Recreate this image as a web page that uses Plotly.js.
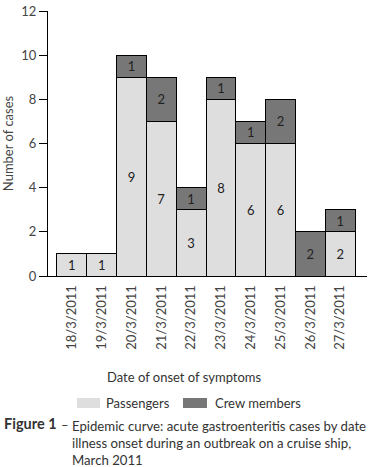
<!DOCTYPE html>
<html>
<head>
<meta charset="utf-8">
<script src="https://cdn.plot.ly/plotly-3.0.1.min.js"></script>
<style>html,body{margin:0;padding:0;background:#fff;}#chart{width:372px;height:467px;}</style>
</head>
<body>
<div id="chart"></div>
<script>
const dates = ["18/3/2011","19/3/2011","20/3/2011","21/3/2011","22/3/2011","23/3/2011","24/3/2011","25/3/2011","26/3/2011","27/3/2011"];
const passengers = [1,1,9,7,3,8,6,6,0,2];
const crew = [0,0,1,2,1,1,1,2,2,1];

const FONT = "Lato, 'DejaVu Sans', sans-serif";
const W = 372, H = 467;
const M = {l:48, r:5, t:11, b:191};
const PW = W - M.l - M.r, PH = H - M.t - M.b;
const px = x => (x - M.l) / PW;
const py = y => (H - M.b - y) / PH;

const lbl = arr => arr.map(v => v ? String(v) : "");

const common = {
  type: 'bar',
  x: dates,
  textposition: 'inside',
  insidetextanchor: 'middle',
  textangle: 0,
  constraintext: 'none',
  textfont: {family: FONT, size: 13, color: '#222'},
  hoverinfo: 'skip',
  showlegend: false
};

const traces = [
  Object.assign({}, common, {
    name: 'Passengers', y: passengers, text: lbl(passengers),
    marker: {color: '#dedede', line: {color: '#000', width: 1}}
  }),
  Object.assign({}, common, {
    name: 'Crew members', y: crew, text: lbl(crew),
    marker: {color: '#777777', line: {color: '#000', width: 1}}
  })
];

const layout = {
  width: W, height: H,
  margin: M,
  paper_bgcolor: '#fff', plot_bgcolor: '#fff',
  barmode: 'stack', bargap: 0,
  font: {family: FONT, size: 12, color: '#333'},
  xaxis: {
    type: 'category',
    range: [-0.8, 9.9],
    tickangle: -90,
    ticks: '',
    showline: true, linecolor: '#000', linewidth: 1,
    showgrid: false, zeroline: false,
    tickfont: {family: FONT, size: 13, color: '#444'},
    ticklabelstandoff: 3,
    automargin: false
  },
  yaxis: {
    range: [0, 12],
    tickvals: [0,2,4,6,8,10,12],
    ticks: 'outside', ticklen: 8, tickcolor: '#000', tickwidth: 1,
    showline: true, linecolor: '#000', linewidth: 1,
    showgrid: false, zeroline: false,
    tickfont: {family: FONT, size: 13, color: '#444'},
    automargin: false,
    title: {text: 'Number of cases', font: {family: FONT, size: 13, color: '#444'}, standoff: 10}
  },
  shapes: [
    {type:'rect', xref:'paper', yref:'paper', x0:px(77), x1:px(100), y0:py(408), y1:py(398), fillcolor:'#dedede', line:{width:0}},
    {type:'rect', xref:'paper', yref:'paper', x0:px(183), x1:px(207), y0:py(408), y1:py(398), fillcolor:'#777777', line:{width:0}}
  ],
  annotations: [
    {xref:'paper', yref:'paper', x:px(184), y:py(377), xanchor:'center', yanchor:'middle', showarrow:false, text:'Date of onset of symptoms', font:{family:FONT, size:13, color:'#333'}},
    {xref:'paper', yref:'paper', x:px(104), y:py(403), xanchor:'left', yanchor:'middle', showarrow:false, text:'Passengers', font:{family:FONT, size:13, color:'#333'}},
    {xref:'paper', yref:'paper', x:px(213), y:py(403), xanchor:'left', yanchor:'middle', showarrow:false, text:'Crew members', font:{family:FONT, size:13, color:'#333'}},
    {xref:'paper', yref:'paper', x:px(2), y:py(424), xanchor:'left', yanchor:'middle', showarrow:false, text:'<b>Figure 1</b>', font:{family:FONT, size:14.5, color:'#333'}},
    {xref:'paper', yref:'paper', x:px(59), y:py(425), xanchor:'left', yanchor:'middle', showarrow:false, text:'–', font:{family:FONT, size:13, color:'#333'}},
    {xref:'paper', yref:'paper', x:px(70), y:py(416), xanchor:'left', yanchor:'top', showarrow:false, align:'left',
     text:'Epidemic curve: acute gastroenteritis cases by date<br>illness onset during an outbreak on a cruise ship,<br>March 2011', font:{family:FONT, size:13.2, color:'#333'}}
  ]
};

Plotly.newPlot('chart', traces, layout, {displayModeBar:false, staticPlot:true});
</script>
</body>
</html>
